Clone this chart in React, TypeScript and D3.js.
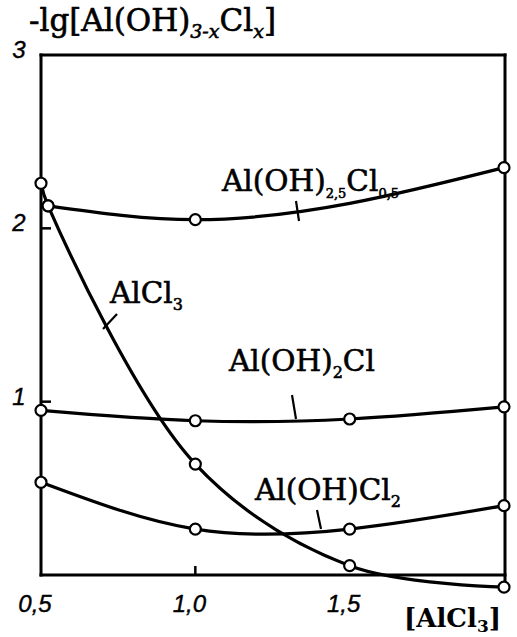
import React from 'react';
import * as d3 from 'd3';

const W = 517;
const H = 637;

// [AlCl3] concentrations and −lg values for each species
const hydroxo25X = [0.523, 1.0, 2.0];
const hydroxo25Y = [2.13, 2.05, 2.35];

const hydroxo2X = [0.5, 1.0, 1.5, 2.0];
const hydroxo2Y = [0.95, 0.89, 0.9, 0.97];

const hydroxo1X = [0.5, 1.0, 1.5, 2.0];
const hydroxo1Y = [0.535, 0.265, 0.265, 0.4];

const chlorideX = [0.5, 0.523, 1.0, 1.5, 2.0];
const chlorideY = [2.26, 2.13, 0.64, 0.054, -0.07];

const xTicks = [0.5, 1.0, 1.5];
const xTickLabels = ['0,5', '1,0', '1,5'];
const yTicks = [1, 2, 3];
const yTickLabels = ['1', '2', '3'];

const x = d3.scaleLinear().domain([0.5, 2.0]).range([41, 504]);
const y = d3.scaleLinear().domain([0, 3]).range([575, 55]);

const zip = (xs: number[], ys: number[]) => xs.map((v, i) => [v, ys[i]] as [number, number]);

const lineWith = (curve: d3.CurveFactory) =>
  d3
    .line<[number, number]>()
    .x((d) => x(d[0]))
    .y((d) => y(d[1]))
    .curve(curve);

const SERIF = "'DejaVu Serif', serif";
const SANS = "'Liberation Sans', Arial, sans-serif";

export default function App() {
  const series = [
    { pts: zip(hydroxo25X, hydroxo25Y), gen: lineWith(d3.curveMonotoneX) },
    { pts: zip(hydroxo2X, hydroxo2Y), gen: lineWith(d3.curveNatural) },
    { pts: zip(hydroxo1X, hydroxo1Y), gen: lineWith(d3.curveNatural) },
    { pts: zip(chlorideX, chlorideY), gen: lineWith(d3.curveCatmullRom.alpha(0.5)) },
  ];
  const x0 = x.range()[0];
  const x1 = 505;
  const yTop = y(3);
  const yBot = y(0);
  const yLast = y(chlorideY[chlorideY.length - 1]);
  const fs = 29.5;
  const sub = 16;
  const ink = { fill: '#000', stroke: '#000', strokeWidth: 0.6 };

  return (
    <svg
      width={W}
      height={H}
      viewBox={`0 0 ${W} ${H}`}
      style={{ position: 'absolute', left: 0, top: 0, background: '#fff' }}
    >
      <rect width={W} height={H} fill="#fff" />
      {/* frame */}
      <g stroke="#000" strokeWidth={3} fill="none" strokeLinecap="square">
        <line x1={x0} y1={yTop} x2={x1} y2={yTop} />
        <line x1={x0} y1={yTop} x2={x0} y2={yBot} />
        <line x1={x0} y1={yBot} x2={x1} y2={yBot} />
        <line x1={x1} y1={yTop} x2={x1} y2={yLast} />
      </g>
      {/* inner ticks */}
      <g stroke="#000" strokeWidth={2.5}>
        {yTicks.slice(0, 2).map((t) => (
          <line key={t} x1={x0} x2={x0 + 10} y1={y(t)} y2={y(t)} />
        ))}
        <line x1={x(1.0)} x2={x(1.0)} y1={yBot} y2={yBot - 9} />
      </g>
      {/* tick labels */}
      <g fontFamily={SANS} fontStyle="italic" fontSize={24} fill="#000" stroke="#000" strokeWidth={0.4}>
        {xTicks.map((t, i) => (
          <text key={t} x={x(t) - 6} y={612} textAnchor="middle">
            {xTickLabels[i]}
          </text>
        ))}
        {yTicks.map((t, i) => (
          <text key={t} x={19} y={y(t) + 3} textAnchor="middle">
            {yTickLabels[i]}
          </text>
        ))}
      </g>
      {/* curves */}
      <g fill="none" stroke="#000" strokeWidth={3.2}>
        {series.map((s, i) => (
          <path key={i} d={s.gen(s.pts) || ''} />
        ))}
      </g>
      {/* data points */}
      <g fill="#fff" stroke="#000" strokeWidth={2.2}>
        {series.map((s, i) =>
          s.pts.map((p, j) => <circle key={`${i}-${j}`} cx={x(p[0])} cy={y(p[1])} r={5.5} />)
        )}
      </g>
      {/* leader lines */}
      <g stroke="#000" strokeWidth={2.2}>
        <line x1={296} y1={201} x2={299} y2={221} />
        <line x1={117} y1={314} x2={103} y2={329} />
        <line x1={292} y1={395} x2={296} y2={419} />
        <line x1={317} y1={510} x2={321} y2={529} />
      </g>
      {/* species labels */}
      <g fontFamily={SERIF} fontSize={fs} {...ink}>
        <text x={222} y={191}>
          Al(OH)<tspan fontSize={13} dy={7}>2,5</tspan>
          <tspan dy={-7}>Cl</tspan>
          <tspan fontSize={13} dy={7}>0,5</tspan>
        </text>
        <text x={110} y={303}>
          AlCl<tspan fontSize={sub} dy={7}>3</tspan>
        </text>
        <text x={229} y={371}>
          Al(OH)<tspan fontSize={sub} dy={7}>2</tspan>
          <tspan dy={-7}>Cl</tspan>
        </text>
        <text x={255} y={500}>
          Al(OH)Cl<tspan fontSize={sub} dy={7}>2</tspan>
        </text>
      </g>
      {/* axis titles */}
      <text x={29} y={31} fontFamily={SERIF} fontSize={31} {...ink}>
        -lg[Al(OH)<tspan fontSize={19} fontStyle="italic" dy={7}>3-x</tspan>
        <tspan dy={-7}>Cl</tspan>
        <tspan fontSize={19} fontStyle="italic" dy={7}>x</tspan>
        <tspan dy={-7}>]</tspan>
      </text>
      <text x={404} y={627} fontFamily={SERIF} fontSize={26} fontWeight="bold" fill="#000">
        [AlCl<tspan fontSize={17} dy={5}>3</tspan>
        <tspan dy={-5}>]</tspan>
      </text>
    </svg>
  );
}
